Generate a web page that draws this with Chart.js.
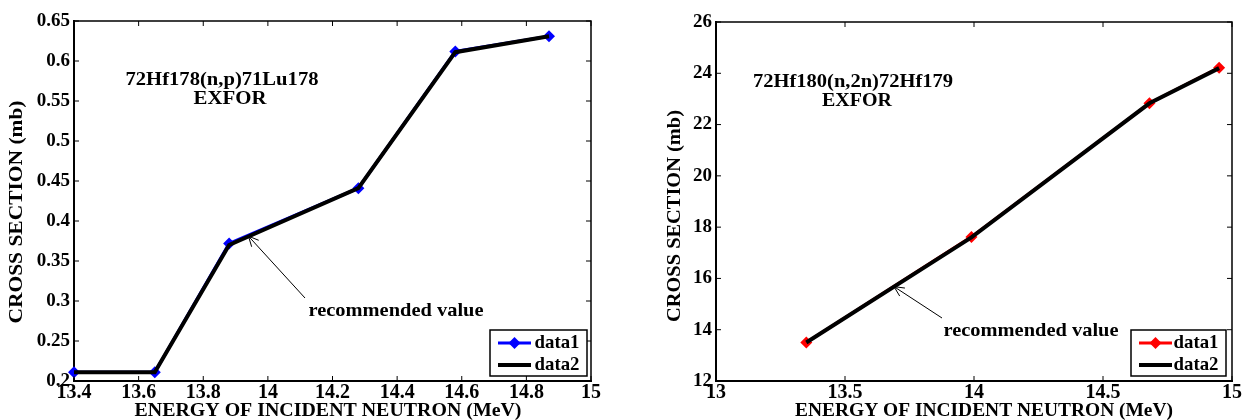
<!DOCTYPE html>
<html>
<head>
<meta charset="utf-8">
<script src="https://cdn.jsdelivr.net/npm/chart.js@4.4.1/dist/chart.umd.min.js"></script>
<style>
  body { margin: 0; background: #fff; }
  #wrap { position: relative; width: 1242px; height: 420px; }
  canvas { position: absolute; top: 0; }
</style>
</head>
<body>
<div id="wrap">
  <canvas id="chartLeft" width="621" height="420" style="left:0"></canvas>
  <canvas id="chartRight" width="621" height="420" style="left:621px"></canvas>
</div>
<script>
// Left panel: 72Hf178(n,p)71Lu178
const energyHf178 = [13.4, 13.65, 13.88, 14.28, 14.58, 14.87];
const sigmaHf178 = [0.211, 0.211, 0.372, 0.441, 0.612, 0.631];
const recHf178 = [0.211, 0.211, 0.370, 0.441, 0.611, 0.631];
const xTicksHf178 = [13.4, 13.6, 13.8, 14, 14.2, 14.4, 14.6, 14.8, 15];
const yTicksHf178 = [0.2, 0.25, 0.3, 0.35, 0.4, 0.45, 0.5, 0.55, 0.6, 0.65];

// Right panel: 72Hf180(n,2n)72Hf179
const energyHf180 = [13.35, 13.99, 14.68, 14.95];
const sigmaHf180 = [13.5, 17.62, 22.83, 24.22];
const recHf180 = [13.5, 17.6, 22.83, 24.2];
const xTicksHf180 = [13, 13.5, 14, 14.5, 15];
const yTicksHf180 = [12, 14, 16, 18, 20, 22, 24, 26];

const serif = '"Liberation Serif", "Times New Roman", serif';

// draw bold serif text squeezed/stretched to a given width (the original is stretched)
function fitText(ctx, text, x, y, size, width, angle) {
    ctx.save();
    ctx.font = `bold ${size}px ${serif}`;
    const sx = width / ctx.measureText(text).width;
    ctx.translate(x, y);
    ctx.rotate(angle || 0);
    ctx.scale(sx, 1);
    ctx.textAlign = 'center';
    ctx.textBaseline = 'middle';
    ctx.fillStyle = '#000';
    ctx.fillText(text, 0, 0);
    ctx.restore();
}

function line(ctx, x1, y1, x2, y2) {
    ctx.beginPath();
    ctx.moveTo(x1, y1);
    ctx.lineTo(x2, y2);
    ctx.stroke();
}

function diamond(ctx, x, y, r, color) {
    ctx.fillStyle = color;
    ctx.beginPath();
    ctx.moveTo(x, y - r);
    ctx.lineTo(x + r, y);
    ctx.lineTo(x, y + r);
    ctx.lineTo(x - r, y);
    ctx.closePath();
    ctx.fill();
}

// matlab style box, inner ticks, labels, arrow and legend
function matlabPlugin(cfg) {
    return {
        id: 'matlab',
        afterDraw(chart) {
            const { ctx, chartArea: a, scales: { x, y } } = chart;
            ctx.save();
            ctx.strokeStyle = '#000';
            ctx.lineWidth = 1.5;
            ctx.beginPath();
            ctx.moveTo(a.left, a.top);
            ctx.lineTo(a.right, a.top);
            ctx.lineTo(a.right, a.bottom);
            ctx.stroke();

            ctx.lineWidth = 1;
            x.ticks.forEach(t => {
                const px = x.getPixelForValue(t.value);
                line(ctx, px, a.bottom, px, a.bottom - 5);
                line(ctx, px, a.top, px, a.top + 5);
            });
            y.ticks.forEach(t => {
                const py = y.getPixelForValue(t.value);
                line(ctx, a.left, py, a.left + 5, py);
                line(ctx, a.right, py, a.right - 5, py);
            });

            // titles
            fitText(ctx, cfg.title, cfg.titlePos[0], cfg.titlePos[1], 19, cfg.titlePos[2]);
            fitText(ctx, 'EXFOR', cfg.exforPos[0], cfg.exforPos[1], 19, cfg.exforPos[2]);
            fitText(ctx, 'ENERGY OF INCIDENT NEUTRON (MeV)', cfg.xTitle[0], cfg.xTitle[1], 19, cfg.xTitle[2]);
            fitText(ctx, 'CROSS SECTION (mb)', cfg.yTitle[0], cfg.yTitle[1], 19, cfg.yTitle[2], -Math.PI / 2);

            // arrow to the recommended value
            const tx = x.getPixelForValue(cfg.arrowTip[0]);
            const ty = y.getPixelForValue(cfg.arrowTip[1]);
            const [sx, sy] = cfg.arrowTail;
            ctx.lineWidth = 1;
            line(ctx, sx, sy, tx, ty);
            const ang = Math.atan2(sy - ty, sx - tx);
            line(ctx, tx, ty, tx + 11 * Math.cos(ang + 0.45), ty + 11 * Math.sin(ang + 0.45));
            line(ctx, tx, ty, tx + 11 * Math.cos(ang - 0.45), ty + 11 * Math.sin(ang - 0.45));
            fitText(ctx, 'recommended value', cfg.note[0], cfg.note[1], 19, cfg.note[2]);

            // legend
            const [lx, ly, lw, lh] = cfg.legend;
            ctx.fillStyle = '#fff';
            ctx.fillRect(lx, ly, lw, lh);
            ctx.lineWidth = 1.5;
            ctx.strokeRect(lx, ly, lw, lh);
            const l1 = lx + 8, l2 = lx + 41, row1 = ly + 13, row2 = ly + 35;
            ctx.strokeStyle = cfg.color;
            ctx.lineWidth = 3;
            line(ctx, l1, row1, l2, row1);
            diamond(ctx, (l1 + l2) / 2, row1, 6, cfg.color);
            ctx.strokeStyle = '#000';
            ctx.lineWidth = 4;
            line(ctx, l1, row2, l2, row2);
            fitText(ctx, 'data1', lx + lw - 30, row1, 19, 45);
            fitText(ctx, 'data2', lx + lw - 30, row2, 19, 45);
            ctx.restore();
        }
    };
}

function makeChart(id, xs, ys, rec, color, xTicks, yTicks, area, cfg) {
    const ctx = document.getElementById(id).getContext('2d');
    const tickFont = size => ({ family: serif, weight: 'bold', size: size });
    return new Chart(ctx, {
        type: 'line',
        data: {
            datasets: [
                {
                    label: 'data1',
                    data: xs.map((v, i) => ({ x: v, y: ys[i] })),
                    borderColor: color,
                    backgroundColor: color,
                    borderWidth: 3,
                    pointStyle: 'rectRot',
                    pointRadius: 6,
                    pointBorderWidth: 0,
                    tension: 0,
                    clip: false,
                    order: 1
                },
                {
                    label: 'data2',
                    data: xs.map((v, i) => ({ x: v, y: rec[i] })),
                    borderColor: '#000',
                    borderWidth: 4,
                    pointRadius: 0,
                    tension: 0,
                    order: 0
                }
            ]
        },
        options: {
            responsive: false,
            animation: false,
            events: [],
            layout: { padding: { top: area.top, right: 621 - area.right, left: 0, bottom: 0 } },
            scales: {
                x: {
                    type: 'linear',
                    min: xTicks[0],
                    max: xTicks[xTicks.length - 1],
                    afterBuildTicks: s => { s.ticks = xTicks.map(v => ({ value: v })); },
                    afterFit: s => { s.height = 420 - area.bottom; },
                    grid: { display: false, drawTicks: false },
                    border: { display: true, color: '#000', width: 2 },
                    ticks: { color: '#000', font: tickFont(20), padding: 0, maxRotation: 0, autoSkip: false, callback: v => String(v) }
                },
                y: {
                    min: yTicks[0],
                    max: yTicks[yTicks.length - 1],
                    afterBuildTicks: s => { s.ticks = yTicks.map(v => ({ value: v })); },
                    afterFit: s => { s.width = area.left; },
                    grid: { display: false, drawTicks: false },
                    border: { display: true, color: '#000', width: 2 },
                    ticks: { color: '#000', font: tickFont(19), padding: 4, autoSkip: false, callback: v => String(v) }
                }
            },
            plugins: {
                legend: { display: false },
                tooltip: { enabled: false }
            }
        },
        plugins: [matlabPlugin(cfg)]
    });
}

makeChart('chartLeft', energyHf178, sigmaHf178, recHf178, '#0000ff', xTicksHf178, yTicksHf178,
    { left: 74, top: 21, right: 591, bottom: 381 },
    {
        title: '72Hf178(n,p)71Lu178', titlePos: [222, 80, 193], exforPos: [230, 99, 73],
        xTitle: [328, 411, 387], yTitle: [17, 212, 223],
        arrowTip: [13.94, 0.381], arrowTail: [305, 298], note: [396, 311, 175],
        legend: [490, 330, 97, 46], color: '#0000ff'
    });

makeChart('chartRight', energyHf180, sigmaHf180, recHf180, '#ff0000', xTicksHf180, yTicksHf180,
    { left: 95, top: 22, right: 611, bottom: 381 },
    {
        title: '72Hf180(n,2n)72Hf179', titlePos: [232, 82, 200], exforPos: [236, 101, 70],
        xTitle: [363, 411, 378], yTitle: [54, 216, 212],
        arrowTip: [13.69, 15.68], arrowTail: [321, 318], note: [410, 331, 175],
        legend: [510, 330, 95, 46], color: '#ff0000'
    });
</script>
</body>
</html>
